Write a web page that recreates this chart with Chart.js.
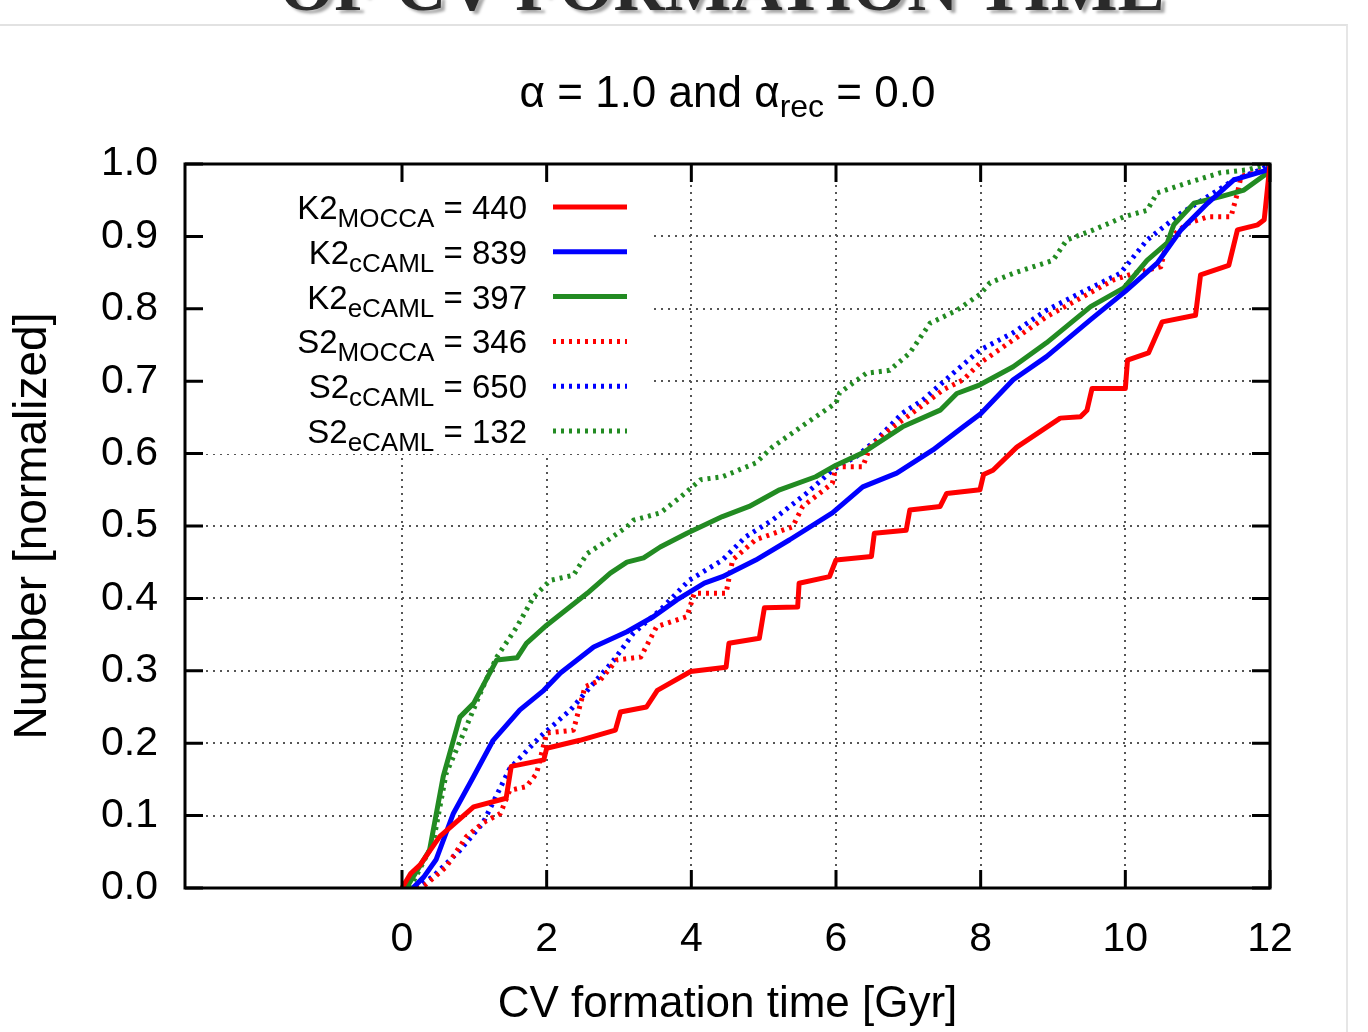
<!DOCTYPE html>
<html>
<head>
<meta charset="utf-8">
<script src="https://cdn.jsdelivr.net/npm/chart.js@4"></script>
<style>
  html, body { margin: 0; padding: 0; background: #fff; }
  #wrap { position: relative; width: 1368px; height: 1032px; overflow: hidden; }
  #frame { position: absolute; left: -2px; top: 24px; width: 1348px; height: 1020px;
           border-top: 2px solid #e2e2e2; border-right: 2px solid #e6e6e6; }
  canvas { position: absolute; left: 0; top: 0; }
</style>
</head>
<body>
<div id="wrap">
  <div id="frame"></div>
  <canvas id="cvChart" width="1368" height="1032"></canvas>
</div>
<script>
// tick values
const xTicks = [0, 2, 4, 6, 8, 10, 12];
const yTicks = [0, 0.1, 0.2, 0.3, 0.4, 0.5, 0.6, 0.7, 0.8, 0.9, 1.0];

// legend labels
const legendMain = ['K2', 'K2', 'K2', 'S2', 'S2', 'S2'];
const legendSub = ['MOCCA', 'cCAML', 'eCAML', 'MOCCA', 'cCAML', 'eCAML'];
const legendCount = [440, 839, 397, 346, 650, 132];

// K2 MOCCA (red solid)
const k2moccaT = [0.0, 0.12, 0.25, 0.52, 0.99, 1.44, 1.51, 1.96, 2.0, 2.46, 2.95, 3.02, 3.38, 3.53, 3.99, 4.48, 4.52, 4.94, 5.01, 5.47, 5.49, 5.91, 6.0, 6.49, 6.53, 6.97, 7.02, 7.44, 7.53, 7.99, 8.04, 8.17, 8.5, 9.1, 9.38, 9.47, 9.54, 10.0, 10.03, 10.32, 10.51, 10.97, 11.04, 11.43, 11.55, 11.83, 11.92, 12.0];
const k2moccaV = [0.0, 0.02, 0.032, 0.071, 0.112, 0.124, 0.168, 0.177, 0.193, 0.204, 0.218, 0.243, 0.25, 0.273, 0.299, 0.305, 0.338, 0.345, 0.387, 0.388, 0.421, 0.43, 0.453, 0.458, 0.49, 0.494, 0.522, 0.527, 0.545, 0.55, 0.571, 0.577, 0.609, 0.649, 0.651, 0.66, 0.69, 0.69, 0.729, 0.739, 0.782, 0.791, 0.847, 0.86, 0.909, 0.916, 0.923, 1.0];

// K2 cCAML (blue solid)
const k2ccamlT = [0.15, 0.3, 0.47, 0.71, 0.99, 1.26, 1.63, 1.96, 2.19, 2.65, 3.11, 3.48, 3.8, 4.18, 4.43, 4.89, 5.36, 5.95, 6.37, 6.84, 7.34, 7.76, 8.0, 8.45, 8.91, 9.52, 10.0, 10.44, 10.77, 11.14, 11.5, 11.97, 12.0];
const k2ccamlV = [0.0, 0.015, 0.039, 0.103, 0.154, 0.204, 0.246, 0.273, 0.297, 0.333, 0.354, 0.375, 0.398, 0.421, 0.43, 0.453, 0.481, 0.518, 0.554, 0.573, 0.605, 0.637, 0.655, 0.702, 0.734, 0.785, 0.824, 0.863, 0.909, 0.946, 0.978, 0.992, 1.0];

// K2 eCAML (green solid)
const k2ecamlT = [0.06, 0.38, 0.57, 0.8, 0.99, 1.31, 1.59, 1.72, 2.0, 2.56, 2.88, 3.11, 3.34, 3.57, 3.94, 4.43, 4.8, 5.22, 5.72, 6.0, 6.37, 6.92, 7.44, 7.67, 7.99, 8.45, 8.91, 9.52, 9.98, 10.3, 10.58, 10.67, 10.95, 11.32, 11.64, 11.97, 12.0];
const k2ecamlV = [0.0, 0.052, 0.154, 0.236, 0.255, 0.315, 0.318, 0.338, 0.363, 0.407, 0.435, 0.45, 0.456, 0.471, 0.49, 0.513, 0.527, 0.55, 0.568, 0.584, 0.601, 0.637, 0.66, 0.683, 0.695, 0.72, 0.753, 0.803, 0.829, 0.867, 0.891, 0.916, 0.946, 0.955, 0.964, 0.988, 1.0];

// S2 MOCCA (red dotted)
const s2moccaT = [0.2, 0.33, 0.61, 0.89, 1.12, 1.36, 1.49, 1.72, 1.86, 2.0, 2.37, 2.53, 2.74, 2.97, 3.3, 3.52, 3.94, 4.04, 4.48, 4.57, 4.89, 5.4, 5.54, 5.95, 6.0, 6.37, 6.47, 6.74, 7.11, 7.48, 7.76, 7.99, 8.45, 8.91, 9.33, 9.84, 10.12, 10.49, 10.58, 10.86, 11.14, 11.46, 11.55, 11.6, 11.97, 12.0];
const s2moccaV = [0.0, 0.005, 0.029, 0.071, 0.09, 0.103, 0.135, 0.14, 0.158, 0.214, 0.218, 0.278, 0.287, 0.315, 0.319, 0.361, 0.375, 0.407, 0.407, 0.453, 0.481, 0.499, 0.527, 0.559, 0.582, 0.582, 0.609, 0.633, 0.66, 0.688, 0.702, 0.725, 0.757, 0.789, 0.812, 0.84, 0.849, 0.858, 0.895, 0.918, 0.927, 0.927, 0.96, 0.983, 0.992, 1.0];

// S2 cCAML (blue dotted)
const s2ccamlT = [0.19, 0.43, 0.8, 1.12, 1.49, 1.91, 2.33, 2.65, 2.93, 3.2, 3.57, 3.97, 4.43, 4.75, 5.12, 5.59, 5.95, 6.28, 6.56, 6.92, 7.2, 7.62, 7.99, 8.45, 8.91, 9.38, 9.93, 10.3, 10.77, 11.22, 11.5, 11.87, 12.0];
const s2ccamlV = [0.0, 0.016, 0.052, 0.09, 0.165, 0.209, 0.246, 0.283, 0.315, 0.352, 0.384, 0.425, 0.453, 0.485, 0.508, 0.545, 0.577, 0.596, 0.619, 0.656, 0.674, 0.711, 0.743, 0.767, 0.798, 0.822, 0.849, 0.895, 0.932, 0.96, 0.978, 0.992, 1.0];

// S2 eCAML (green dotted)
const s2ecamlT = [0.11, 0.43, 0.61, 0.89, 1.12, 1.31, 1.59, 1.82, 2.05, 2.37, 2.56, 2.84, 3.11, 3.2, 3.57, 3.85, 4.13, 4.43, 4.89, 5.12, 5.59, 6.0, 6.05, 6.42, 6.74, 7.02, 7.3, 7.67, 7.99, 8.13, 8.45, 9.0, 9.19, 9.56, 9.98, 10.3, 10.44, 10.86, 11.32, 11.69, 12.0];
const s2ecamlV = [0.0, 0.062, 0.158, 0.223, 0.278, 0.319, 0.361, 0.402, 0.425, 0.432, 0.462, 0.48, 0.499, 0.508, 0.518, 0.54, 0.564, 0.568, 0.587, 0.609, 0.642, 0.67, 0.684, 0.711, 0.715, 0.739, 0.78, 0.798, 0.82, 0.836, 0.849, 0.867, 0.895, 0.909, 0.927, 0.936, 0.96, 0.974, 0.988, 0.992, 1.0];

const FONT = '"Liberation Sans", Arial, sans-serif';
const RED = '#ff0000', BLUE = '#0000ff', GREEN = '#228b22';
const DOTS = [3, 5];

function pts(ts, vs) {
  return ts.map((t, i) => ({ x: t, y: vs[i] }));
}

const series = [
  { data: pts(k2moccaT, k2moccaV), color: RED, dash: [] },
  { data: pts(k2ccamlT, k2ccamlV), color: BLUE, dash: [] },
  { data: pts(k2ecamlT, k2ecamlV), color: GREEN, dash: [] },
  { data: pts(s2moccaT, s2moccaV), color: RED, dash: DOTS },
  { data: pts(s2ccamlT, s2ccamlV), color: BLUE, dash: DOTS },
  { data: pts(s2ecamlT, s2ecamlV), color: GREEN, dash: DOTS }
];

const datasets = series.map((s, i) => ({
  label: legendMain[i] + legendSub[i] + ' = ' + legendCount[i],
  data: s.data,
  borderColor: s.color,
  backgroundColor: s.color,
  borderWidth: 5,
  borderDash: s.dash,
  borderCapStyle: 'butt',
  borderJoinStyle: 'round',
  pointRadius: 0,
  fill: false,
  tension: 0
}));

// draws text pieces with subscripts
function drawParts(ctx, parts, x, y, align) {
  let total = 0;
  parts.forEach(p => { ctx.font = p.size + 'px ' + FONT; p.w = ctx.measureText(p.text).width; total += p.w; });
  let cx = align === 'right' ? x - total : (align === 'center' ? x - total / 2 : x);
  parts.forEach(p => {
    ctx.font = p.size + 'px ' + FONT;
    ctx.fillText(p.text, cx, y + (p.dy || 0));
    cx += p.w;
  });
}

const decor = {
  id: 'decor',
  beforeDatasetsDraw(chart) {
    const { ctx, chartArea: a } = chart;
    // white legend box hides the grid behind the key
    ctx.save();
    ctx.fillStyle = '#fff';
    ctx.fillRect(a.left + 2, a.top + 2, 650 - a.left, 452 - a.top);
    ctx.restore();
  },
  afterDatasetsDraw(chart) {
    const { ctx, chartArea: a, scales: { x, y } } = chart;
    ctx.save();
    ctx.strokeStyle = '#000';
    ctx.lineWidth = 3;
    ctx.strokeRect(a.left, a.top, a.right - a.left, a.bottom - a.top);
    ctx.beginPath();
    xTicks.forEach(v => {
      const px = x.getPixelForValue(v);
      ctx.moveTo(px, a.bottom); ctx.lineTo(px, a.bottom - 18);
      ctx.moveTo(px, a.top); ctx.lineTo(px, a.top + 18);
    });
    yTicks.forEach(v => {
      const py = y.getPixelForValue(v);
      ctx.moveTo(a.left, py); ctx.lineTo(a.left + 18, py);
      ctx.moveTo(a.right, py); ctx.lineTo(a.right - 18, py);
    });
    ctx.stroke();
    ctx.restore();
  },
  afterDraw(chart) {
    const { ctx, chartArea: a } = chart;
    ctx.save();
    ctx.fillStyle = '#000';
    ctx.textBaseline = 'alphabetic';

    // plot title
    drawParts(ctx, [
      { text: '\u03b1 = 1.0 and \u03b1', size: 44 },
      { text: 'rec', size: 32, dy: 10 },
      { text: ' = 0.0', size: 44 }
    ], (a.left + a.right) / 2, 107, 'center');

    // key
    series.forEach((s, i) => {
      const ly = 207 + i * 44.8;
      drawParts(ctx, [
        { text: legendMain[i], size: 33 },
        { text: legendSub[i], size: 26, dy: 8 },
        { text: ' = ' + legendCount[i], size: 33 }
      ], 527, ly + 12, 'right');
      ctx.beginPath();
      ctx.strokeStyle = s.color;
      ctx.lineWidth = 5;
      ctx.lineCap = 'butt';
      ctx.setLineDash(s.dash);
      ctx.moveTo(553, ly);
      ctx.lineTo(627, ly);
      ctx.stroke();
      ctx.setLineDash([]);
    });

    // slide heading, cut off at the top of the page
    const head = 'OF CV FORMATION TIME';
    ctx.font = 'bold 100px "Liberation Serif", serif';
    const size = 100 * 885 / ctx.measureText(head).width;
    ctx.font = 'bold ' + size.toFixed(1) + 'px "Liberation Serif", serif';
    ctx.textAlign = 'center';
    ctx.fillStyle = '#2a2a2a';
    ctx.shadowColor = 'rgba(0,0,0,0.35)';
    ctx.shadowOffsetX = 4;
    ctx.shadowOffsetY = 3;
    ctx.shadowBlur = 3;
    ctx.fillText(head, 722, 10);
    ctx.restore();
  }
};

new Chart(document.getElementById('cvChart'), {
  type: 'line',
  data: { datasets: datasets },
  options: {
    responsive: false,
    animation: false,
    layout: { padding: { top: 164, right: 98, bottom: 0, left: 0 } },
    plugins: { legend: { display: false }, tooltip: { enabled: false } },
    scales: {
      x: {
        type: 'linear',
        min: -3,
        max: 12,
        afterBuildTicks: scale => { scale.ticks = xTicks.map(v => ({ value: v })); },
        afterFit: scale => { scale.height = 144; },
        ticks: { color: '#000', font: { family: FONT, size: 41 }, padding: 27, maxRotation: 0, callback: v => String(v) },
        grid: { color: '#555', lineWidth: 2, drawTicks: false },
        border: { display: false, dash: [2, 5] },
        title: { display: true, text: 'CV formation time [Gyr]', color: '#000', font: { family: FONT, size: 44 }, padding: { top: 0, bottom: 1 } }
      },
      y: {
        min: 0,
        max: 1,
        afterBuildTicks: scale => { scale.ticks = yTicks.map(v => ({ value: v })); },
        afterFit: scale => { scale.width = 185; },
        ticks: { color: '#000', font: { family: FONT, size: 41 }, padding: 27, callback: v => v.toFixed(1) },
        grid: { color: '#555', lineWidth: 2, drawTicks: false },
        border: { display: false, dash: [2, 5] },
        title: { display: true, text: 'Number [normalized]', color: '#000', font: { family: FONT, size: 46 }, padding: { top: 6, bottom: 0 } }
      }
    }
  },
  plugins: [decor]
});
</script>
</body>
</html>
